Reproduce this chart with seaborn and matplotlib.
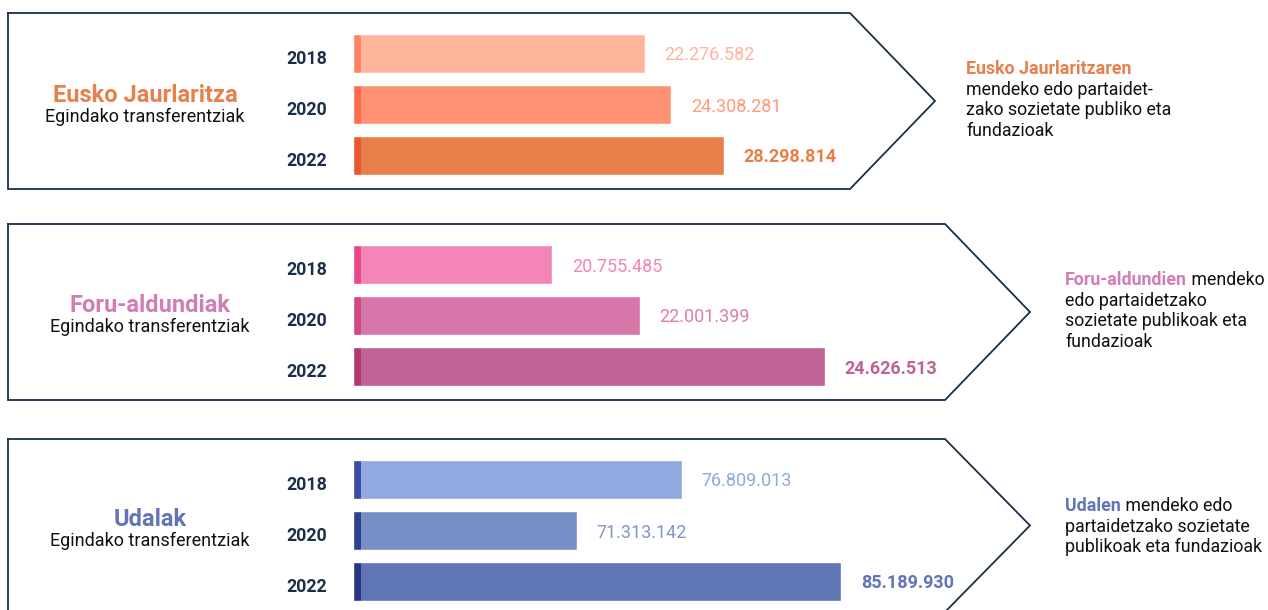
import matplotlib
matplotlib.use("Agg")
import matplotlib.pyplot as plt
import seaborn as sns
import pandas as pd

sns.set_style("white")
plt.rcParams["font.family"] = ["Roboto", "DejaVu Sans"]

# data
years = ["2018", "2020", "2022"]
eusko_values = [22276582, 24308281, 28298814]
foru_values = [20755485, 22001399, 24626513]
udal_values = [76809013, 71313142, 85189930]

titles = ["Eusko Jaurlaritza", "Foru-aldundiak", "Udalak"]
subtitle = "Egindako transferentziak"
side_bold = ["Eusko Jaurlaritzaren", "Foru-aldundien", "Udalen"]
side_rest = [
    ["", "mendeko edo partaidet-", "zako sozietate publiko eta", "fundazioak"],
    [" mendeko", "edo partaidetzako", "sozietate publikoak eta", "fundazioak"],
    [" mendeko edo", "partaidetzako sozietate", "publikoak eta fundazioak"],
]

# styles
title_colors = ["#E8804D", "#D27DB6", "#6275B8"]
bar_colors = [
    ["#FFB59C", "#FF9272", "#E87E4A"],
    ["#F385B8", "#D776A8", "#BE6393"],
    ["#91A8E0", "#778FC6", "#6075B5"],
]
accent_colors = [
    ["#FF8467", "#FF6A4A", "#E85A2E"],
    ["#E8478A", "#CF4885", "#B53770"],
    ["#3A4EA0", "#2E4190", "#253580"],
]
label_colors = [
    ["#FFB59C", "#FF9A7A", "#E87E4A"],
    ["#F385B8", "#E07BB0", "#BE6393"],
    ["#91A8E0", "#7F96CC", "#6075B5"],
]
navy = "#1B2E4B"

W, H = 1268, 610
fig = plt.figure(figsize=(W / 100, H / 100), dpi=100)

# background layer for outlines and text, in pixel units
bg = fig.add_axes([0, 0, 1, 1])
bg.set_xlim(0, W)
bg.set_ylim(H, 0)
bg.set_axis_off()

# panel layout (pixels)
panel_top = [13, 224, 439]
panel_bottom = [189, 400, 612]
panel_right = [850, 945, 945]
arrow_tip = [935, 1030, 1030]
bars_top = [28, 239, 454]
title_y = [95, 305, 519]
title_x = [145, 150, 150]
side_x = [966, 1065, 1065]
side_y = [69, 280, 506]
axis_start = [0, 17.93e6, 59.55e6]
px_per_unit = [13.1e-6, 70.5e-6, 19.05e-6]

bars_left = 353
bars_width = 587
bars_height = 153

all_values = [eusko_values, foru_values, udal_values]

for i in range(3):
    t, b, r, tip = panel_top[i], panel_bottom[i], panel_right[i], arrow_tip[i]
    mid = (t + b) / 2
    xs = [8, r, tip, r, 8, 8]
    ys = [t, t, mid, b, b, t]
    bg.plot(xs, ys, color=navy, lw=1.3, solid_joinstyle="miter")

    bg.text(title_x[i], title_y[i], titles[i], color=title_colors[i],
            fontsize=17, fontweight="bold", ha="center", va="center")
    bg.text(title_x[i], title_y[i] + 22, subtitle, color="#111111",
            fontsize=13, ha="center", va="center")

    # side text
    first = bg.text(side_x[i], side_y[i], side_bold[i], color=title_colors[i],
                    fontsize=12.8, fontweight="bold", ha="left", va="center")
    if side_rest[i][0]:
        bg.annotate(side_rest[i][0], xy=(1, 0), xycoords=first,
                    ha="left", va="bottom", fontsize=12.8, color="#111111")
    for k, line in enumerate(side_rest[i][1:]):
        bg.text(side_x[i], side_y[i] + 20.7 * (k + 1), line, color="#111111",
                fontsize=12.8, ha="left", va="center")

    df = pd.DataFrame({"year": years, "value": all_values[i]})

    # main bars
    ax = fig.add_axes([bars_left / W, 1 - (bars_top[i] + bars_height) / H,
                       bars_width / W, bars_height / H])
    sns.barplot(data=df, x="value", y="year", hue="year", palette=bar_colors[i],
                orient="h", width=0.765, legend=False, ax=ax, saturation=1)
    ax.set_xlim(axis_start[i], axis_start[i] + bars_width / px_per_unit[i])
    ax.set_axis_off()
    ax.patch.set_alpha(0)
    for j, cont in enumerate(ax.containers):
        lbl = f"{all_values[i][j]:,}".replace(",", ".")
        texts = ax.bar_label(cont, labels=[lbl], padding=14, fontsize=13,
                             color=label_colors[i][j],
                             fontweight="bold" if j == 2 else "normal")
        for tx in texts:
            tx.set_va("center_baseline")
    for j, yr in enumerate(years):
        ax.annotate(yr, xy=(0, j), xycoords=("axes fraction", "data"),
                    xytext=(-26 * 0.72, -5.5 * 0.72), textcoords="offset points",
                    ha="right", va="center", fontsize=12.8, fontweight="bold",
                    color=navy)

    # darker accent strip at the start of each bar
    ax2 = fig.add_axes([bars_left / W, 1 - (bars_top[i] + bars_height) / H,
                        8 / W, bars_height / H])
    sns.barplot(data=df, x="value", y="year", hue="year", palette=accent_colors[i],
                orient="h", width=0.765, legend=False, ax=ax2, saturation=1)
    ax2.set_xlim(0, 1)
    ax2.set_axis_off()
    ax2.patch.set_alpha(0)

fig.savefig("out.png", dpi=100)
